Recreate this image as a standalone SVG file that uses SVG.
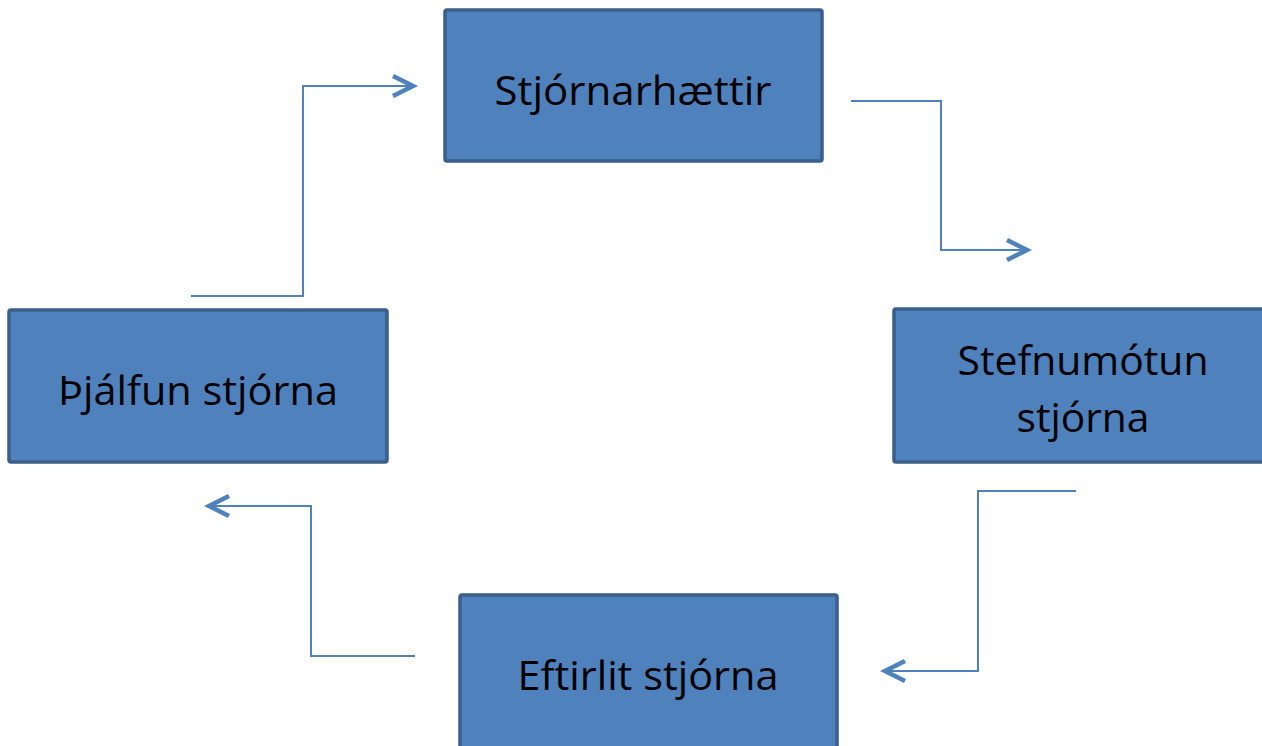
<svg xmlns="http://www.w3.org/2000/svg" width="1262" height="746" viewBox="0 0 1262 746">
<defs>
<style>
.box{fill:#4f81bd;stroke:#3a5f8b;stroke-width:3.5}
.lbl{font-family:"Open Sans","Liberation Sans",sans-serif;font-size:40px;fill:#000;text-anchor:middle}
.con{fill:none;stroke:#4f81bd;stroke-width:2}
.head{fill:none;stroke:#4f81bd;stroke-width:4.5}
</style>
</defs>
<rect width="1262" height="746" fill="#fff"/>
<g id="connectors">
<path class="con" d="M191,296 H303 V86 H413"/>
<path class="head" d="M393,76 L413,86 L393,96"/>
<path class="con" d="M851,101 H941 V250 H1027"/>
<path class="head" d="M1007,240 L1027,250 L1007,260"/>
<path class="con" d="M1076,491 H978 V671 H885"/>
<path class="head" d="M905,661 L885,671 L905,681"/>
<path class="con" d="M415,656 H311 V506 H209"/>
<path class="head" d="M229,496 L209,506 L229,516"/>
</g>
<g id="node-stjornarhaettir">
<rect class="box" x="445" y="10" width="377" height="151" rx="2"/>
<text class="lbl" x="633" y="105" textLength="277" lengthAdjust="spacingAndGlyphs">Stjórnarhættir</text>
</g>
<g id="node-thjalfun">
<rect class="box" x="9" y="310" width="378" height="152" rx="2"/>
<text class="lbl" x="198" y="405" textLength="280" lengthAdjust="spacingAndGlyphs">Þjálfun stjórna</text>
</g>
<g id="node-stefnumotun">
<rect class="box" x="894" y="309" width="380" height="153" rx="2"/>
<text class="lbl" x="1083" y="375" textLength="251" lengthAdjust="spacingAndGlyphs">Stefnumótun</text>
<text class="lbl" x="1083" y="432" textLength="133" lengthAdjust="spacingAndGlyphs">stjórna</text>
</g>
<g id="node-eftirlit">
<rect class="box" x="460" y="595" width="377" height="160" rx="2"/>
<text class="lbl" x="648" y="690" textLength="261" lengthAdjust="spacingAndGlyphs">Eftirlit stjórna</text>
</g>
</svg>
